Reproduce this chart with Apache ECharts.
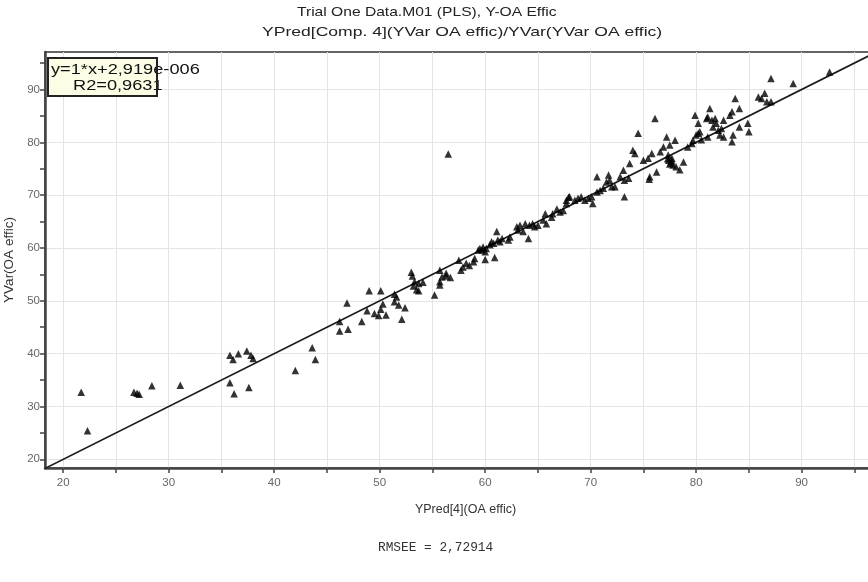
<!DOCTYPE html>
<html>
<head>
<meta charset="utf-8">
<script src="https://cdn.jsdelivr.net/npm/echarts@6/dist/echarts.min.js"></script>
<style>
html,body{margin:0;padding:0;background:#fff;}
#chart{width:868px;height:582px;}
</style>
</head>
<body>
<div id="chart"></div>
<script>
// ---- data ----
var titleLine1 = "Trial One Data.M01 (PLS), Y-OA Effic";
var titleLine2 = "YPred[Comp. 4](YVar OA effic)/YVar(YVar OA effic)";
var xAxisName = "YPred[4](OA effic)";
var yAxisName = "YVar(OA effic)";
var eqText = "y=1*x+2,919e-006";
var r2Text = "R2=0,9631";
var rmseeText = "RMSEE = 2,72914";

var xTicks = [20,25,30,35,40,45,50,55,60,65,70,75,80,85,90,95];
var xLabels = [20,30,40,50,60,70,80,90];
var yTicks = [20,25,30,35,40,45,50,55,60,65,70,75,80,85,90,95];
var yLabels = [20,30,40,50,60,70,80,90];
var xRange = [18.27, 98];
var yRange = [18.35, 97.1];

// predicted (x) values
var predX = [
21.7,22.3,26.7,27.0,27.2,28.4,31.1,
35.8,36.1,36.6,37.4,37.8,38.0,35.8,36.2,37.6,
42.0,43.6,43.9,
46.2,46.2,47.0,46.9,48.3,48.8,49.0,50.1,50.3,50.1,49.5,49.9,50.6,51.4,51.6,51.4,51.8,52.4,52.1,
53.0,53.1,53.3,53.7,54.1,53.2,53.5,53.7,55.2,
55.7,55.9,56.3,56.7,55.7,55.7,56.3,
57.5,57.7,57.9,58.2,58.5,58.9,59.0,
59.35,59.5,59.7,59.8,60.0,60.1,60.45,60.6,60.8,61.1,61.2,61.4,61.6,60.0,60.9,
62.2,62.35,63.0,63.1,63.3,63.6,63.8,64.1,64.2,64.5,64.7,65.0,65.5,65.7,65.8,66.3,66.4,66.8,67.1,67.4,67.7,67.9,
67.7,68.0,68.5,68.8,69.1,69.45,69.8,70.1,70.2,70.6,70.6,70.9,71.2,71.5,71.7,71.8,72.0,72.3,72.8,73.1,73.2,73.6,73.7,74.0,74.2,74.5,75.0,75.45,75.6,75.8,76.1,76.25,76.6,73.2,75.55,
76.9,77.2,77.35,77.5,77.7,77.8,78.0,78.1,78.45,78.8,79.2,79.6,80.2,80.5,81.0,81.1,
77.4,77.6,77.5,77.3,77.7,
79.9,80.2,80.0,79.7,80.35,81.1,81.3,81.5,81.6,81.8,81.9,82.1,82.25,82.4,82.6,82.6,83.2,83.4,83.4,83.5,83.7,84.1,84.1,84.9,85.0,85.9,86.2,86.5,86.7,87.1,87.1,89.2,92.65,
56.5
];
// observed (y) values
var obsY = [
32.7,25.4,32.7,32.5,32.3,33.9,34.0,
39.7,38.9,40.0,40.5,39.7,39.1,34.5,32.4,33.6,
36.8,41.1,38.9,
46.1,44.3,44.6,49.6,46.1,48.1,51.9,51.9,49.4,48.4,47.6,47.2,47.3,51.25,50.7,49.8,49.2,48.7,46.5,
55.4,54.7,53.6,53.3,53.5,52.8,52.1,51.9,51.1,
55.8,54.5,54.7,54.4,53.6,53.0,55.2,
57.7,55.8,56.4,57.1,56.7,57.4,58.0,
59.6,59.9,59.6,60.2,59.3,59.9,60.6,61.2,60.9,63.1,61.5,61.2,61.8,57.8,58.2,
61.5,62.1,64.0,63.4,64.3,63.1,64.6,61.8,64.3,64.6,64.0,64.3,65.3,66.5,64.6,65.8,66.5,67.4,66.8,67.1,68.4,69.6,
69.05,69.7,69.05,69.4,69.7,69.05,69.4,69.7,68.4,70.6,73.5,70.9,71.3,72.5,73.8,72.8,71.6,71.6,73.5,74.7,72.8,73.2,76.0,78.5,77.9,81.7,76.6,77.0,73.5,77.9,84.5,74.4,78.2,69.7,73.0,
79.1,81.0,77.6,79.5,77.0,75.7,80.4,75.4,74.8,76.3,79.1,79.8,81.7,80.5,84.5,81.0,
76.6,76.2,75.9,76.9,76.5,
85.15,83.6,81.4,80.4,82.0,84.8,86.4,84.2,82.9,84.5,83.6,82.3,81.4,82.6,84.2,81.0,85.15,85.8,80.1,81.4,88.3,86.4,82.9,83.6,82.0,88.6,88.3,89.3,87.7,92.1,87.7,91.15,93.3,
77.8
];

// ---- build ----
var points = predX.map(function(x,i){ return [x, obsY[i]]; });
var fitLine = [[xRange[0], xRange[0]], [xRange[1], xRange[1]]];

var chart = echarts.init(document.getElementById('chart'), null, {renderer:'canvas'});
var font = '"Liberation Sans", Arial, sans-serif';
chart.setOption({
  animation: false,
  backgroundColor: '#ffffff',
  grid: {
    left: 45, top: 52, width: 841, height: 416,
    outerBoundsMode: 'none', containLabel: false,
    show: true, borderColor: '#333', borderWidth: 1.5, backgroundColor: 'transparent'
  },
  xAxis: {
    type: 'value', min: xRange[0], max: xRange[1],
    name: xAxisName, nameLocation: 'middle', nameGap: 35,
    nameTextStyle: { color: '#333', fontSize: 12.5, fontFamily: font },
    axisLine: { show: true, onZero: false, lineStyle: { color: '#444', width: 2.5 } },
    axisTick: { show: true, length: 5, customValues: xTicks, lineStyle: { color: '#444', width: 1.5 } },
    axisLabel: { customValues: xLabels, color: '#666', fontSize: 11.5, fontFamily: font, margin: 9 },
    splitLine: { show: true, lineStyle: { color: '#e4e4e4', width: 1 } }
  },
  yAxis: [{
    type: 'value', min: yRange[0], max: yRange[1], position: 'left',
    name: yAxisName, nameLocation: 'middle', nameGap: 29,
    nameTextStyle: { color: '#333', fontSize: 13.5, fontFamily: font },
    axisLine: { show: true, onZero: false, lineStyle: { color: '#444', width: 2.5 } },
    axisTick: { show: true, length: 5, customValues: yTicks, lineStyle: { color: '#444', width: 1.5 } },
    axisLabel: { customValues: yLabels, color: '#666', fontSize: 11.5, fontFamily: font, margin: 5 },
    splitLine: { show: false }
  },{
    type: 'value', min: yRange[0], max: yRange[1], position: 'right',
    axisLine: { show: false }, axisLabel: { show: false },
    axisTick: { show: false, customValues: yLabels },
    splitLine: { show: true, lineStyle: { color: '#e4e4e4', width: 1 } }
  }],
  series: [{
    type: 'line', data: fitLine, showSymbol: false, symbol: 'none',
    lineStyle: { color: '#1a1a1a', width: 1.6 }, clip: true, z: 3, silent: true
  },{
    type: 'scatter', data: points, symbol: 'triangle', symbolSize: 7.5,
    itemStyle: { color: '#000' }, z: 4, clip: true
  }],
  graphic: [
    { type: 'text', x: 297, y: 6, scaleX: 1.2, z: 10,
      style: { text: titleLine1, font: '13px ' + font, fill: '#222', verticalAlign: 'top' } },
    { type: 'text', x: 262, y: 25, scaleX: 1.3, z: 10,
      style: { text: titleLine2, font: '13.5px ' + font, fill: '#222', verticalAlign: 'top' } },
    { type: 'rect', x: 48, y: 58, z: 20,
      shape: { x: 0, y: 0, width: 109, height: 38 },
      style: { fill: '#fdfde6', stroke: null } },
    { type: 'text', x: 51, y: 63, scaleX: 1.3, z: 21,
      style: { text: eqText, font: '14px ' + font, fill: '#111', verticalAlign: 'top' } },
    { type: 'text', x: 73, y: 79, scaleX: 1.3, z: 21,
      style: { text: r2Text, font: '14px ' + font, fill: '#111', verticalAlign: 'top' } },
    { type: 'rect', x: 48, y: 58, z: 22,
      shape: { x: 0, y: 0, width: 109, height: 38 },
      style: { fill: 'none', stroke: '#222', lineWidth: 2 } },
    { type: 'text', x: 378, y: 541, z: 10,
      style: { text: rmseeText, font: '12.8px "Liberation Mono", "DejaVu Sans Mono", monospace', fill: '#333', verticalAlign: 'top' } }
  ]
});
</script>
</body>
</html>
